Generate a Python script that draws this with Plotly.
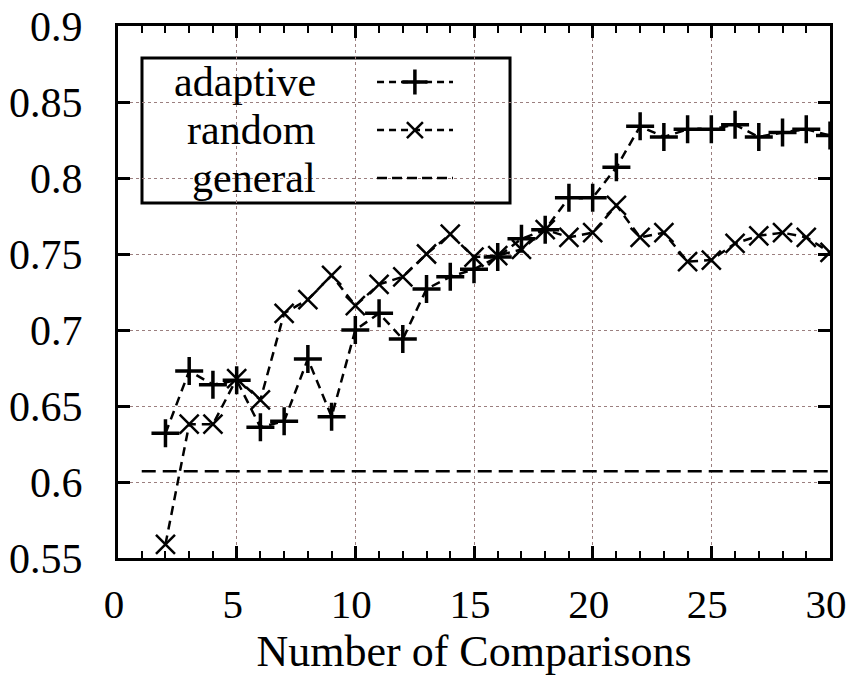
import plotly.graph_objects as go

comparisons = list(range(2, 31))
adaptive = [0.632, 0.673, 0.664, 0.667, 0.636, 0.640, 0.681, 0.643, 0.700, 0.711,
            0.694, 0.727, 0.735, 0.740, 0.748, 0.760, 0.766, 0.787, 0.787, 0.807,
            0.834, 0.827, 0.832, 0.832, 0.835, 0.827, 0.830, 0.832, 0.828]
random_ = [0.559, 0.638, 0.638, 0.668, 0.654, 0.711, 0.720, 0.736, 0.716, 0.730,
           0.735, 0.750, 0.763, 0.748, 0.749, 0.753, 0.766, 0.761, 0.764, 0.782,
           0.761, 0.764, 0.745, 0.746, 0.757, 0.762, 0.764, 0.761, 0.751]
general_x = [1, 30]
general = [0.607, 0.607]

series_names = ["adaptive", "random", "general"]
x_ticks = [0, 5, 10, 15, 20, 25, 30]
y_ticks = [0.55, 0.6, 0.65, 0.7, 0.75, 0.8, 0.85, 0.9]

FONT = "Liberation Serif, Times New Roman, serif"
fig = go.Figure()

DASH = "9px,6px"
GDASH = "14px,7px"
line_style = dict(color="black", width=2.5, dash=DASH)
fig.add_trace(go.Scatter(x=comparisons, y=adaptive, mode="lines+markers", name=series_names[0],
                         line=line_style,
                         marker=dict(symbol="cross-thin", size=20, line=dict(color="black", width=3.5))))
fig.add_trace(go.Scatter(x=comparisons, y=random_, mode="lines+markers", name=series_names[1],
                         line=line_style,
                         marker=dict(symbol="x-thin", size=19, line=dict(color="black", width=2.5))))
fig.add_trace(go.Scatter(x=general_x, y=general, mode="lines", name=series_names[2],
                         line=dict(color="black", width=2.5, dash=GDASH)))

# custom legend (text left of sample) drawn on an overlay axis in plot-fraction units
rows_y = [0.8947, 0.8045, 0.7143]
sx0, sx1, sxm = 0.3638, 0.4705, 0.417
sym = ["cross-thin", "x-thin", None]
for i, name in enumerate(series_names):
    fig.add_trace(go.Scatter(x=[sx0, sx1], y=[rows_y[i], rows_y[i]], mode="lines",
                             xaxis="x2", yaxis="y2", showlegend=False, hoverinfo="skip",
                             line=dict(color="black", width=2.5,
                                       dash="7px,5px" if i < 2 else "10px,5px")))
    if sym[i]:
        fig.add_trace(go.Scatter(x=[sxm], y=[rows_y[i]], mode="markers",
                                 xaxis="x2", yaxis="y2", showlegend=False, hoverinfo="skip",
                                 marker=dict(symbol=sym[i], size=18 if i == 0 else 16,
                                             line=dict(color="black", width=3.5 if i == 0 else 2.5))))
    fig.add_annotation(x=0.2809, y=rows_y[i], xref="paper", yref="paper", text=name,
                       showarrow=False, xanchor="right", yanchor="middle",
                       font=dict(family=FONT, size=42, color="black"))

fig.add_shape(type="rect", xref="paper", yref="paper", x0=0.0337, x1=0.5506, y0=0.6673, y1=0.9398,
              line=dict(color="black", width=3), fillcolor="white", layer="between")

grid = dict(showgrid=True, gridcolor="#9b7f7f", gridwidth=1, griddash="dot")
fig.update_layout(
    template="none",
    width=848, height=679,
    margin=dict(l=118, r=18, t=26, b=121, autoexpand=False),
    paper_bgcolor="white", plot_bgcolor="white",
    showlegend=False,
    font=dict(family=FONT, size=42, color="black"),
    xaxis=dict(range=[0, 30], tickvals=x_ticks,
               ticks="inside", ticklen=12, tickwidth=2.5,
               tickcolor="black", showline=True, linecolor="black", linewidth=3, mirror="allticks",
               zeroline=False, ticklabelstandoff=8, ticklabelshift=-4,
               ticklabeloverflow="allow", automargin=False,
               minor=dict(dtick=1, ticks="inside", ticklen=7, tickwidth=2, tickcolor="black", showgrid=False),
               title=dict(text="Number of Comparisons", standoff=4,
                          font=dict(family=FONT, size=44, color="black")),
               tickfont=dict(family=FONT, size=41, color="black"), **grid),
    yaxis=dict(range=[0.55, 0.9], tickvals=y_ticks, ticktext=[f"{v:g}" for v in y_ticks],
               ticks="inside", ticklen=12, tickwidth=2.5, ticklabeloverflow="allow", automargin=False,
               tickcolor="black", showline=True, linecolor="black", linewidth=3, mirror="allticks",
               zeroline=False, ticklabelstandoff=24,
               tickfont=dict(family=FONT, size=42, color="black"), **grid),
    xaxis2=dict(range=[0, 1], overlaying="x", visible=False, fixedrange=True),
    yaxis2=dict(range=[0, 1], overlaying="y", visible=False, fixedrange=True),
)

fig.write_html("out.html")
